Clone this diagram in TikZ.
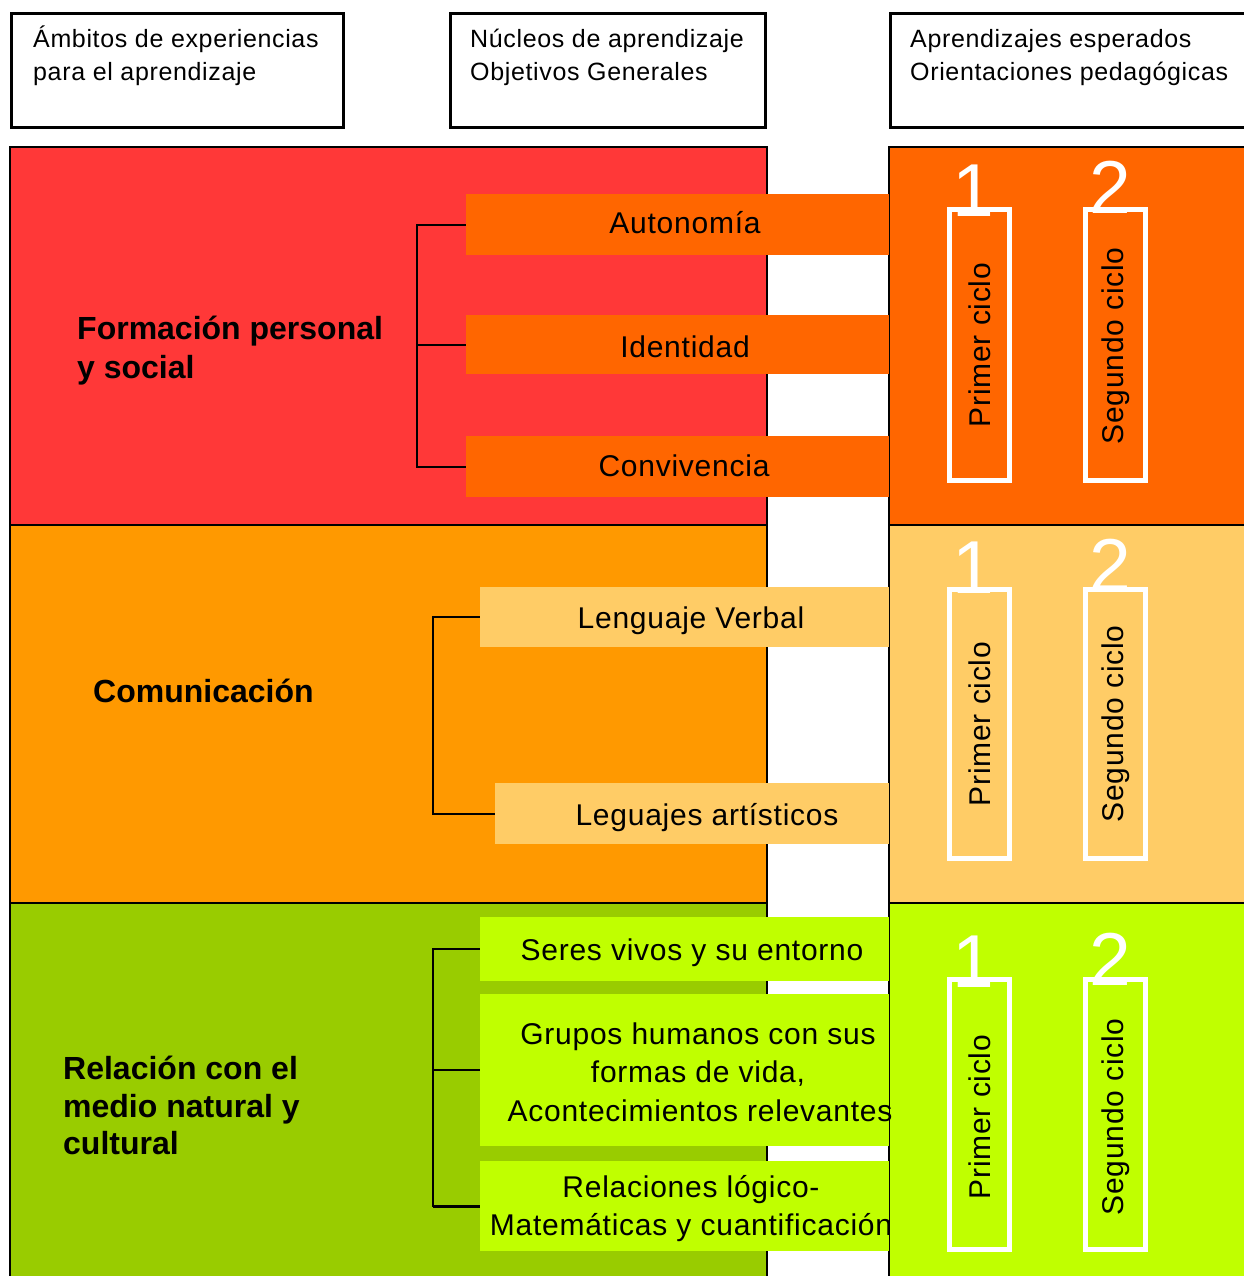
\documentclass[tikz,border=0pt]{standalone}
\usepackage{fontspec}
\setmainfont{Liberation Sans}
\definecolor{rowA}{HTML}{FF3838}
\definecolor{rowAR}{HTML}{FF6600}
\definecolor{rowB}{HTML}{FF9900}
\definecolor{rowBR}{HTML}{FFCC66}
\definecolor{rowC}{HTML}{99CC00}
\definecolor{rowCR}{HTML}{C0FF00}
\begin{document}
\begin{tikzpicture}[x=1pt,y=-1pt,
  hdrbox/.style={draw=black,line width=3pt,inner sep=0pt,minimum height=114pt},
  hdrtxt/.style={anchor=base west,inner sep=0pt,font=\fontsize{25}{30}\selectfont\addfontfeature{LetterSpace=2.6}},
  panel/.style={draw=black,line width=2pt},
  barbox/.style={inner sep=0pt,minimum height=60pt},
  bartxt/.style={anchor=base,inner sep=0pt,font=\fontsize{30}{36}\selectfont\addfontfeature{LetterSpace=2.5}},
  bigtxt/.style={anchor=base west,inner sep=0pt,font=\bfseries\fontsize{32}{38}\selectfont},
  cyclebox/.style={draw=white,line width=5pt,inner sep=0pt,minimum width=60pt,minimum height=271pt},
  cycletxt/.style={rotate=90,inner sep=0pt,font=\fontsize{30}{36}\selectfont\addfontfeature{LetterSpace=2.5}},
  numtxt/.style={anchor=base,inner sep=0pt,text=white,font=\fontsize{75}{80}\selectfont},
  brk/.style={draw=black,line width=2pt}
]
\useasboundingbox (0,0) rectangle (1243,1276);
\fill[white] (0,0) rectangle (1243,1276);

% header boxes
\node[hdrbox,minimum width=332pt] (h1) at (177.5,70.5) {};
\node[hdrbox,minimum width=315pt] (h2) at (608,70.5) {};
\node[hdrbox,minimum width=370pt] (h3) at (1075,70.5) {};
\node[hdrtxt] (h1a) at (33,48) {Ámbitos de experiencias};
\node[hdrtxt] (h1b) at (33,81) {para el aprendizaje};
\node[hdrtxt] (h2a) at (470,48) {Núcleos de aprendizaje};
\node[hdrtxt] (h2b) at (470,81) {Objetivos Generales};
\node[hdrtxt] (h3a) at (910,48) {Aprendizajes esperados};
\node[hdrtxt] (h3b) at (910,81) {Orientaciones pedagógicas};

% row panels
\filldraw[panel,fill=rowA] (10,147) rectangle (767,525);
\filldraw[panel,fill=rowB] (10,525) rectangle (767,903);
\filldraw[panel,fill=rowC] (10,903) rectangle (767,1280);
\filldraw[panel,fill=rowAR] (889,147) rectangle (1250,525);
\filldraw[panel,fill=rowBR] (889,525) rectangle (1250,903);
\filldraw[panel,fill=rowCR] (889,903) rectangle (1250,1280);

% bars row 1
\node[barbox,fill=rowAR,minimum width=423pt,minimum height=61pt] (a1) at (677.5,224.5) {};
\node[barbox,fill=rowAR,minimum width=423pt,minimum height=59pt] (a2) at (677.5,344.5) {};
\node[barbox,fill=rowAR,minimum width=423pt,minimum height=61pt] (a3) at (677.5,466.5) {};
% bars row 2
\node[barbox,fill=rowBR,minimum width=409pt,minimum height=60pt] (c1) at (684.5,617) {};
\node[barbox,fill=rowBR,minimum width=394pt,minimum height=61pt] (c2) at (692,813.5) {};
% bars row 3
\node[barbox,fill=rowCR,minimum width=409pt,minimum height=64pt] (r1) at (684.5,949) {};
\node[barbox,fill=rowCR,minimum width=409pt,minimum height=152pt] (r2) at (684.5,1070) {};
\node[barbox,fill=rowCR,minimum width=409pt,minimum height=90pt] (r3) at (684.5,1206) {};

% brackets
\draw[brk] (a1.west) -- ++(-49,0) |- (a3.west);
\draw[brk] (a2.west) -- ++(-49,0);
\draw[brk] (c1.west) -- ++(-47,0) |- (c2.west);
\draw[brk] (r1.west) -- ++(-47,0) |- (r2.west);
\draw[brk] (r2.west) ++(-47,0) |- (r3.west);
\draw[draw=black,line width=3pt] (r3.west) -- ++(-47,0);

% bar texts
\node[bartxt] (ta1) at (685,233) {Autonomía};
\node[bartxt] (ta2) at (685,357) {Identidad};
\node[bartxt] (ta3) at (684,476) {Convivencia};
\node[bartxt] (tc1) at (691,628) {Lenguaje Verbal};
\node[bartxt] (tc2) at (707,825) {Leguajes artísticos};
\node[bartxt] (tr1) at (692,960) {Seres vivos y su entorno};
\node[bartxt] (tr2a) at (698,1044) {Grupos humanos con sus};
\node[bartxt] (tr2b) at (698,1082) {formas de vida,};
\node[bartxt] (tr2c) at (700,1121) {Acontecimientos relevantes};
\node[bartxt] (tr3a) at (691,1197) {Relaciones lógico-};
\node[bartxt] (tr3b) at (691,1235) {Matemáticas y cuantificación};

% left labels
\node[bigtxt] (la1) at (77,339) {Formación personal};
\node[bigtxt] (la2) at (77,378) {y social};
\node[bigtxt] (lb1) at (93,702) {Comunicación};
\node[bigtxt] (lc1) at (63,1079) {Relación con el};
\node[bigtxt] (lc2) at (63,1117) {medio natural y};
\node[bigtxt] (lc3) at (63,1154) {cultural};

% cycle boxes
\node[cyclebox] (pA) at (979.5,345) {};
\node[cyclebox] (sA) at (1115.5,345) {};
\node[cyclebox,minimum height=269pt] (pB) at (979.5,724) {};
\node[cyclebox,minimum height=269pt] (sB) at (1115.5,724) {};
\node[cyclebox,minimum height=270pt] (pC) at (979.5,1114.5) {};
\node[cyclebox,minimum height=270pt] (sC) at (1115.5,1114.5) {};

\node[cycletxt] (tpA) at (979.5,345) {Primer ciclo};
\node[cycletxt] (tsA) at (1116,346) {Segundo ciclo};
\node[cycletxt] (tpB) at (979.5,724) {Primer ciclo};
\node[cycletxt] (tsB) at (1116,724) {Segundo ciclo};
\node[cycletxt] (tpC) at (979.5,1117) {Primer ciclo};
\node[cycletxt] (tsC) at (1116,1117) {Segundo ciclo};

% numerals
\node[numtxt] (nA1) at (973,216) {1};
\node[numtxt] (nA2) at (1110,214) {2};
\node[numtxt] (nB1) at (973,593) {1};
\node[numtxt] (nB2) at (1110,591) {2};
\node[numtxt] (nC1) at (973,987) {1};
\node[numtxt] (nC2) at (1110,985) {2};
\end{tikzpicture}
\end{document}
